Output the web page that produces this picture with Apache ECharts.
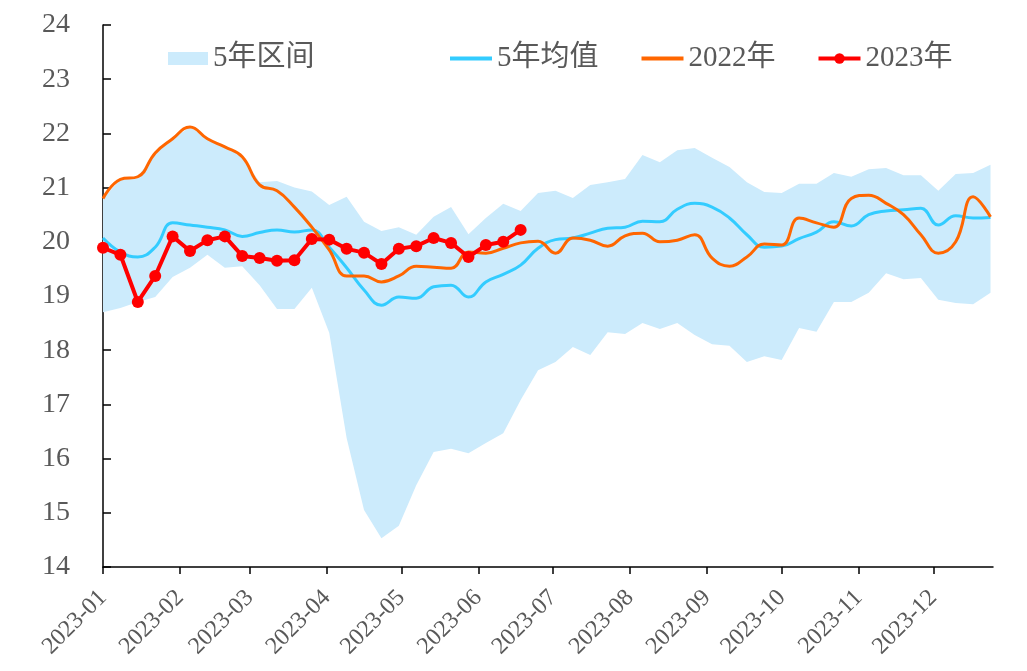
<!DOCTYPE html>
<html>
<head>
<meta charset="utf-8">
<script src="https://cdn.jsdelivr.net/npm/echarts@6/dist/echarts.min.js"></script>
<style>
  html, body { margin: 0; padding: 0; background: #fff; }
  #main { width: 1027px; height: 671px; }
</style>
</head>
<body>
<div id="main"></div>
<script>
// weekly dates
var dates = [
  '2023-01-01', '2023-01-08', '2023-01-15', '2023-01-22', '2023-01-29',
  '2023-02-05', '2023-02-12', '2023-02-19', '2023-02-26',
  '2023-03-05', '2023-03-12', '2023-03-19', '2023-03-26',
  '2023-04-02', '2023-04-09', '2023-04-16', '2023-04-23', '2023-04-30',
  '2023-05-07', '2023-05-14', '2023-05-21', '2023-05-28',
  '2023-06-04', '2023-06-11', '2023-06-18', '2023-06-25',
  '2023-07-02', '2023-07-09', '2023-07-16', '2023-07-23', '2023-07-30',
  '2023-08-06', '2023-08-13', '2023-08-20', '2023-08-27',
  '2023-09-03', '2023-09-10', '2023-09-17', '2023-09-24',
  '2023-10-01', '2023-10-08', '2023-10-15', '2023-10-22', '2023-10-29',
  '2023-11-05', '2023-11-12', '2023-11-19', '2023-11-26',
  '2023-12-03', '2023-12-10', '2023-12-17', '2023-12-24'
];

// 5年区间 下沿 / 上沿
var bandLow = [
  18.70, 18.78, 18.89, 18.98, 19.35, 19.52, 19.76, 19.52, 19.55,
  19.20, 18.76, 18.76, 19.15, 18.32, 16.38, 15.05, 14.53, 14.76,
  15.51, 16.12, 16.18, 16.10, 16.29, 16.47, 17.08, 17.63, 17.78,
  18.06, 17.91, 18.33, 18.30, 18.50, 18.39, 18.50, 18.28, 18.11,
  18.08, 17.78, 17.89, 17.82, 18.41, 18.34, 18.89, 18.89, 19.06,
  19.42, 19.31, 19.33, 18.93, 18.87, 18.85, 19.06
];
var bandHigh = [
  20.80, 21.15, 21.20, 21.64, 21.90, 22.12, 21.90, 21.75, 21.57,
  21.10, 21.12, 21.00, 20.93, 20.68, 20.83, 20.37, 20.20, 20.27,
  20.13, 20.46, 20.64, 20.14, 20.44, 20.70, 20.57, 20.90, 20.94,
  20.81, 21.05, 21.10, 21.16, 21.60, 21.47, 21.69, 21.73, 21.55,
  21.38, 21.10, 20.92, 20.90, 21.07, 21.07, 21.27, 21.20, 21.34,
  21.36, 21.23, 21.23, 20.94, 21.25, 21.27, 21.42
];

// 5年均值
var avg5 = [
  20.07, 19.81, 19.72, 19.90, 20.35, 20.31, 20.27, 20.22, 20.10,
  20.17, 20.22, 20.18, 20.22, 19.90, 19.52, 19.11, 18.83, 18.98,
  18.96, 19.17, 19.20, 18.98, 19.26, 19.40, 19.57, 19.88, 20.04,
  20.07, 20.16, 20.25, 20.27, 20.38, 20.37, 20.60, 20.71, 20.64,
  20.44, 20.13, 19.90, 19.92, 20.06, 20.18, 20.37, 20.29, 20.50,
  20.57, 20.59, 20.62, 20.31, 20.48, 20.44, 20.45
];

// 2022年
var y2022 = [
  20.80, 21.15, 21.20, 21.64, 21.90, 22.12, 21.90, 21.75, 21.57,
  21.05, 20.94, 20.64, 20.27, 19.85, 19.37, 19.37, 19.26, 19.37,
  19.55, 19.53, 19.51, 19.81, 19.79, 19.88, 19.98, 20.01, 19.79,
  20.07, 20.03, 19.92, 20.11, 20.16, 20.00, 20.03, 20.13, 19.70,
  19.55, 19.72, 19.96, 19.94, 20.44, 20.35, 20.27, 20.80, 20.86,
  20.71, 20.50, 20.13, 19.79, 20.00, 20.83, 20.46
];

// 2023年
var y2023 = [
  19.89, 19.76, 18.89, 19.37, 20.10, 19.83, 20.03, 20.10, 19.74,
  19.70, 19.65, 19.66, 20.05, 20.04, 19.87, 19.80, 19.59, 19.87,
  19.92, 20.07, 19.98, 19.72, 19.94, 20.00, 20.22
];

var monthTicks = [
  '2023-01', '2023-02', '2023-03', '2023-04', '2023-05', '2023-06',
  '2023-07', '2023-08', '2023-09', '2023-10', '2023-11', '2023-12'
];

function toTime(s) {
  var p = s.split('-');
  return new Date(+p[0], +p[1] - 1, p[2] ? +p[2] : 1).getTime();
}
function pairs(arr) {
  return arr.map(function (v, i) { return [toTime(dates[i]), v]; });
}
var tickTimes = monthTicks.map(toTime);

var FONT = "'Liberation Serif', 'Noto Sans CJK SC', serif";
var TXT = '#595959';

var chartDom = document.getElementById('main');
var myChart = echarts.init(chartDom);
var option;

option = {
  animation: false,
  backgroundColor: '#fff',
  textStyle: { fontFamily: FONT },
  grid: { left: 103, right: 34, top: 25, bottom: 104, containLabel: false },
  legend: [
    {
      data: [{ name: '5年区间', icon: 'rect' }],
      left: 168,
      top: 44,
      padding: 0,
      itemWidth: 40,
      itemHeight: 13,
      itemGap: 5,
      textStyle: { fontFamily: FONT, fontSize: 29, color: TXT }
    },
    {
      data: [
        { name: '5年均值', itemStyle: { opacity: 0 } },
        { name: '2022年', itemStyle: { opacity: 0 } },
        '2023年'
      ],
      left: 448,
      top: 44,
      padding: 0,
      itemWidth: 42,
      itemHeight: 13,
      itemGap: 41,
      lineStyle: { width: 4 },
      textStyle: { fontFamily: FONT, fontSize: 29, color: TXT }
    }
  ],
  xAxis: {
    type: 'time',
    min: toTime('2023-01-01'),
    max: toTime('2023-12-25'),
    splitNumber: 12,
    axisLine: { lineStyle: { color: '#000', width: 1.5 } },
    axisTick: {
      show: true,
      inside: false,
      length: 7,
      lineStyle: { color: '#000', width: 1.5 }
    },
    axisLabel: {
      rotate: 45,
      margin: 27,
      fontSize: 24,
      fontFamily: FONT,
      color: TXT,
      hideOverlap: false,
      showMinLabel: true,
      showMaxLabel: false,
      formatter: function (v) {
        var i = tickTimes.indexOf(v);
        return i >= 0 ? monthTicks[i] : '';
      }
    },
    splitLine: { show: false }
  },
  yAxis: {
    type: 'value',
    min: 14,
    max: 24,
    interval: 1,
    axisLine: { show: true, lineStyle: { color: '#000', width: 1.5 } },
    axisTick: { show: true, inside: true, length: 8, lineStyle: { color: '#000', width: 1.5 } },
    axisLabel: { margin: 33, fontSize: 28, fontFamily: FONT, color: TXT },
    splitLine: { show: false }
  },
  series: [
    {
      name: 'bandLow',
      type: 'line',
      stack: 'band',
      data: pairs(bandLow),
      symbol: 'none',
      lineStyle: { opacity: 0 },
      silent: true,
      z: 1
    },
    {
      name: '5年区间',
      type: 'line',
      stack: 'band',
      data: bandHigh.map(function (v, i) {
        return [toTime(dates[i]), +(v - bandLow[i]).toFixed(2)];
      }),
      symbol: 'none',
      itemStyle: { color: '#CCEBFC' },
      lineStyle: { opacity: 0 },
      areaStyle: { color: '#CCEBFC', opacity: 1 },
      silent: true,
      z: 1
    },
    {
      name: '5年均值',
      type: 'line',
      data: pairs(avg5),
      smooth: 0.45,
      symbol: 'none',
      itemStyle: { color: '#33CCFF' },
      lineStyle: { color: '#33CCFF', width: 3 },
      z: 3
    },
    {
      name: '2022年',
      type: 'line',
      data: pairs(y2022),
      smooth: 0.45,
      symbol: 'none',
      itemStyle: { color: '#FF6600' },
      lineStyle: { color: '#FF6600', width: 3 },
      z: 4
    },
    {
      name: '2023年',
      type: 'line',
      data: pairs(y2023),
      symbol: 'circle',
      symbolSize: 12,
      itemStyle: { color: '#FF0000' },
      lineStyle: { color: '#FF0000', width: 4 },
      z: 5
    }
  ]
};

option && myChart.setOption(option);
</script>
</body>
</html>
